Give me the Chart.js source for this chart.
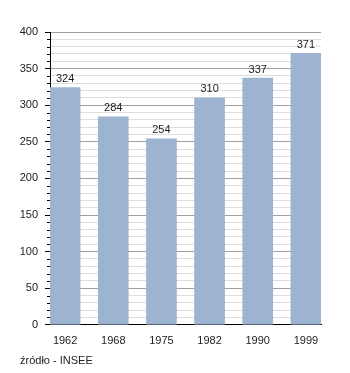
<!DOCTYPE html>
<html>
<head>
<meta charset="utf-8">
<script src="https://cdn.jsdelivr.net/npm/chart.js@4"></script>
<style>
  body { margin: 0; background: #fff; }
  #wrap { position: relative; width: 350px; height: 373px; }
  #source { position: absolute; left: 20px; top: 354px; font: 11px "Liberation Sans", Arial, sans-serif; color: #222; }
</style>
</head>
<body>
<div id="wrap">
  <canvas id="chart" width="350" height="373"></canvas>
  <div id="source">źródło - INSEE</div>
</div>
<script>
// lata spisów i liczba mieszkańców
const years = ['1962', '1968', '1975', '1982', '1990', '1999'];
const population = [324, 284, 254, 310, 337, 371];
const yMin = 0, yMax = 400, yMajor = 50, yMinor = 10;

const font = { family: '"Liberation Sans", Arial, sans-serif', size: 11 };

// drobne kreski co 10 na osi Y
const minorTicks = {
    id: 'minorTicks',
    afterDraw(chart) {
        const y = chart.scales.y, ctx = chart.ctx;
        ctx.save();
        ctx.strokeStyle = '#000';
        ctx.lineWidth = 1;
        for (let v = yMin; v <= yMax; v += yMinor) {
            if (v % yMajor === 0) continue;
            const py = Math.round(y.getPixelForValue(v)) + 0.5;
            ctx.beginPath();
            ctx.moveTo(y.right - 3, py);
            ctx.lineTo(y.right, py);
            ctx.stroke();
        }
        ctx.restore();
    }
};

// wartości nad słupkami
const valueLabels = {
    id: 'valueLabels',
    afterDatasetsDraw(chart) {
        const ctx = chart.ctx;
        ctx.save();
        ctx.font = `${font.size}px ${font.family}`;
        ctx.fillStyle = '#222';
        ctx.textAlign = 'center';
        ctx.textBaseline = 'bottom';
        chart.getDatasetMeta(0).data.forEach((bar, i) => {
            ctx.fillText(population[i], bar.x, bar.y - 3);
        });
        ctx.restore();
    }
};

new Chart(document.getElementById('chart'), {
    type: 'bar',
    data: {
        datasets: [{
            data: population.map((v, i) => ({ x: i, y: v })),
            backgroundColor: '#9cb4d0',
            barThickness: 30
        }]
    },
    options: {
        responsive: false,
        animation: false,
        layout: { padding: { top: 32, right: 29, bottom: 23, left: 0 } },
        plugins: { legend: { display: false }, tooltip: { enabled: false } },
        scales: {
            x: {
                type: 'linear',
                offset: false,
                min: -0.314,
                max: 5.314,
                afterBuildTicks: s => { s.ticks = years.map((_, i) => ({ value: i })); },
                ticks: { callback: v => years[v], color: '#222', font, padding: 2, maxRotation: 0 },
                grid: { display: false },
                border: { color: '#000', width: 1 }
            },
            y: {
                min: yMin,
                max: yMax,
                afterFit: s => { s.width = 50; },
                ticks: {
                    stepSize: yMinor,
                    autoSkip: false,
                    callback: v => (v % yMajor === 0 ? v : ''),
                    color: '#222',
                    font,
                    padding: 7
                },
                grid: {
                    color: c => (c.tick.value % yMajor === 0 ? '#a0a0a0' : '#dedede'),
                    tickColor: c => (c.tick.value % yMajor === 0 ? '#000' : 'rgba(0,0,0,0)'),
                    tickLength: 5
                },
                border: { color: '#000', width: 1 }
            }
        }
    },
    plugins: [minorTicks, valueLabels]
});
</script>
</body>
</html>
